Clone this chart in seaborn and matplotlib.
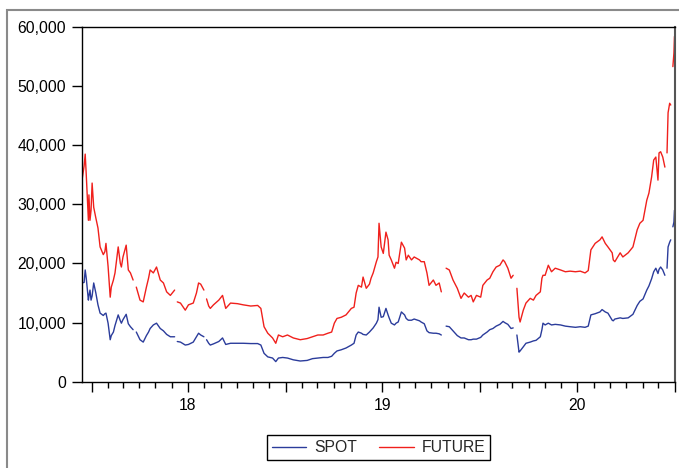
import matplotlib
matplotlib.use("Agg")
import matplotlib.pyplot as plt
import matplotlib.dates as mdates
from matplotlib.patches import Rectangle
from matplotlib.ticker import FuncFormatter, MultipleLocator
import seaborn as sns
import pandas as pd
import numpy as np

nan = np.nan

# observation dates (rows with nan are breaks in the series)
dates = [
    "2017-12-14", "2017-12-18", "2017-12-20", "2017-12-22", "2017-12-26", "2017-12-27",
    "2017-12-29", "2017-12-31", "2018-01-02", "2018-01-05", "2018-01-09", "2018-01-13",
    "2018-01-17", "2018-01-23", "2018-01-26", "2018-01-28", "2018-02-01", "2018-02-05",
    "2018-02-07", "2018-02-11", "2018-02-14", "2018-02-20", "2018-02-24", "2018-02-26",
    "2018-03-01", "2018-03-07", "2018-03-11", "2018-03-15", "2018-03-20", "2018-03-22",
    "2018-03-26", "2018-04-02", "2018-04-08", "2018-04-14", "2018-04-18", "2018-04-21",
    "2018-04-27", "2018-05-03", "2018-05-10", "2018-05-16", "2018-05-22", "2018-05-29",
    "2018-06-06", "2018-06-08", "2018-06-11", "2018-06-17", "2018-06-26", "2018-07-02",
    "2018-07-11", "2018-07-17", "2018-07-21", "2018-07-25", "2018-07-31", "2018-08-03",
    "2018-08-05", "2018-08-09", "2018-08-12", "2018-08-18", "2018-08-28", "2018-09-04",
    "2018-09-10", "2018-09-19", "2018-10-02", "2018-10-13", "2018-10-27", "2018-11-09",
    "2018-11-15", "2018-11-21", "2018-11-28", "2018-12-07", "2018-12-13", "2018-12-18",
    "2018-12-26", "2019-01-04", "2019-01-15", "2019-01-28", "2019-02-10", "2019-02-20",
    "2019-03-02", "2019-03-12", "2019-03-21", "2019-03-28", "2019-04-02", "2019-04-07",
    "2019-04-15", "2019-04-24", "2019-05-04", "2019-05-09", "2019-05-13", "2019-05-17",
    "2019-05-23", "2019-05-26", "2019-06-01", "2019-06-07", "2019-06-10", "2019-06-14",
    "2019-06-20", "2019-06-23", "2019-06-25", "2019-06-29", "2019-07-03", "2019-07-08",
    "2019-07-12", "2019-07-14", "2019-07-18", "2019-07-24", "2019-07-27", "2019-07-31",
    "2019-08-06", "2019-08-12", "2019-08-15", "2019-08-19", "2019-08-25", "2019-08-30",
    "2019-09-09", "2019-09-12", "2019-09-18", "2019-09-23", "2019-09-27", "2019-10-05",
    "2019-10-10", "2019-10-16", "2019-10-20", "2019-10-23", "2019-10-29", "2019-11-04",
    "2019-11-11", "2019-11-19", "2019-11-26", "2019-12-02", "2019-12-10", "2019-12-15",
    "2019-12-19", "2019-12-25", "2020-01-02", "2020-01-06", "2020-01-14", "2020-01-19",
    "2020-01-25", "2020-01-31", "2020-02-07", "2020-02-13", "2020-02-16", "2020-02-22",
    "2020-02-28", "2020-03-03", "2020-03-07", "2020-03-10", "2020-03-14", "2020-03-16",
    "2020-03-22", "2020-03-27", "2020-04-04", "2020-04-10", "2020-04-15", "2020-04-23",
    "2020-04-26", "2020-04-28", "2020-05-02", "2020-05-08", "2020-05-14", "2020-05-21",
    "2020-05-31", "2020-06-09", "2020-06-18", "2020-06-28", "2020-07-07", "2020-07-16",
    "2020-07-22", "2020-07-27", "2020-08-04", "2020-08-13", "2020-08-17", "2020-08-23",
    "2020-08-28", "2020-09-05", "2020-09-07", "2020-09-10", "2020-09-20", "2020-09-25",
    "2020-10-05", "2020-10-14", "2020-10-22", "2020-10-27", "2020-11-02", "2020-11-09",
    "2020-11-13", "2020-11-18", "2020-11-22", "2020-11-26", "2020-11-30", "2020-12-02",
    "2020-12-05", "2020-12-09", "2020-12-13", "2020-12-15", "2020-12-17", "2020-12-19",
    "2020-12-22", "2020-12-24", "2020-12-26", "2020-12-28", "2020-12-30", "2020-12-31",
]

spot = [
    16700, 16800, 18900, 17500, 13800, 14500,
    15500, 13800, 14500, 16700, 15000, 13000,
    11600, 11200, 11500, 11600, 9900, 7100,
    7800, 8400, 9500, 11300, 10300, 9900,
    10500, 11400, 9800, 9300, 8800, nan,
    8400, 7100, 6700, 7800, 8400, 9000,
    9600, 9900, 9000, 8600, 8000, 7600,
    7600, nan, 6800, 6700, 6200, 6300,
    6700, 7600, 8200, 7900, 7600, nan,
    7100, 6500, 6200, 6400, 6800, 7400,
    6300, 6500, 6500, 6500, 6450, 6450,
    6200, 4800, 4200, 4000, 3400, 4000,
    4100, 4000, 3700, 3500, 3600, 3900,
    4000, 4100, 4100, 4300, 4800, 5200,
    5400, 5700, 6200, 6500, 7900, 8400,
    8200, 8000, 7900, 8400, 8700, 9100,
    9900, 10500, 12600, 10900, 11000, 12400,
    11300, 10800, 9900, 9600, 9900, 10100,
    11800, 11300, 10700, 10400, 10400, 10600,
    10300, 10100, 9800, 8600, 8300, 8200,
    8200, 8100, 7900, nan, 9400, 9300,
    8600, 7800, 7400, 7400, 7100, 7100,
    7200, 7200, 7500, 7900, 8400, 8800,
    9000, 9400, 9700, 10200, 10000, 9700,
    9000, 9100, nan, 7900, 5000, 5200,
    5900, 6500, 6700, 6900, 7000, 7600,
    8800, 9900, 9600, 9900, 9600, 9700,
    9600, 9400, 9300, 9200, 9300, 9200,
    9400, 11300, 11500, 11800, 12200, 11800,
    11600, 10400, 10300, 10600, 10800, 10700,
    10800, 11400, 12900, 13600, 14000, 15500,
    16200, 17400, 18600, 19200, 18300, 19000,
    19400, 18900, 18000, nan, 19200, 22800,
    23600, 24000, nan, 26200, 27000, 29000,
]

future = [
    34100, 36500, 38500, 35000, 27300, 31600,
    27300, 29000, 33600, 29500, 27700, 26000,
    22800, 21500, 22000, 23400, 19500, 14300,
    16000, 17200, 18400, 22800, 20000, 19400,
    21100, 23100, 18900, 18400, 17200, nan,
    16000, 13800, 13500, 16000, 17500, 18900,
    18400, 19400, 17200, 16700, 15200, 14600,
    15500, nan, 13500, 13300, 12100, 13000,
    13300, 15000, 16700, 16500, 15500, nan,
    14000, 12800, 12400, 13000, 13800, 14600,
    12400, 13300, 13200, 13000, 12800, 12900,
    12400, 9300, 8200, 7400, 6500, 7900,
    7600, 7900, 7400, 7100, 7300, 7600,
    7900, 7900, 8200, 8400, 9900, 10700,
    10900, 11300, 12400, 12600, 15000, 16300,
    16000, 17700, 15800, 16500, 17500, 18400,
    20300, 21100, 26800, 22800, 21700, 25300,
    24000, 21400, 20600, 19200, 20200, 20000,
    23600, 22600, 20600, 21400, 20600, 21100,
    20600, 20300, 20300, 18400, 16300, 17200,
    16300, 16700, 15200, nan, 19200, 18900,
    17200, 15800, 14100, 15000, 14300, 14600,
    13500, 14600, 14300, 16300, 17200, 17500,
    18600, 19400, 19700, 20600, 20300, 19200,
    17500, 18000, nan, 15800, 10900, 10100,
    12100, 13300, 14100, 13800, 14600, 15200,
    17500, 18000, 18000, 19700, 18600, 19200,
    18900, 18600, 18700, 18600, 18700, 18400,
    18800, 22300, 23400, 24000, 24500, 23400,
    22800, 21800, 20600, 20300, 21800, 21100,
    21800, 22800, 25700, 26800, 27300, 30700,
    31900, 34600, 37500, 38000, 34100, 38700,
    38900, 38000, 36300, nan, 38700, 45500,
    47100, 46800, nan, 53300, 55600, 58400,
]

series_names = ["SPOT", "FUTURE"]
line_colors = ["#2b3c9b", "#f0201c"]

df = pd.DataFrame({"date": pd.to_datetime(dates), "SPOT": spot, "FUTURE": future})
df["seg"] = df["SPOT"].isna().cumsum()
long_df = df.melt(id_vars=["date", "seg"], value_vars=series_names,
                  var_name="series", value_name="value").dropna()

sns.set_theme(style="ticks")
plt.rcParams["font.family"] = ["Liberation Sans", "DejaVu Sans"]

W, H = 679, 468
fig = plt.figure(figsize=(W / 100, H / 100), dpi=100)
fig.patch.set_facecolor("white")
ax = fig.add_axes([82 / W, 1 - 381.7 / H, (675 - 82) / W, (381.7 - 27) / H])

sns.lineplot(data=long_df, x="date", y="value", hue="series", hue_order=series_names,
             units="seg", estimator=None, palette=dict(zip(series_names, line_colors)),
             linewidth=1.0, ax=ax)

ax.set_ylim(0, 60000)
ax.yaxis.set_major_locator(MultipleLocator(10000))
ax.yaxis.set_major_formatter(FuncFormatter(lambda v, p: f"{v:,.0f}"))

ax.set_xlim(pd.Timestamp(dates[0]), pd.Timestamp("2021-01-01"))
ax.xaxis.set_major_locator(mdates.MonthLocator(bymonth=[1, 7]))
ax.xaxis.set_minor_locator(mdates.MonthLocator())


def year_label(v, pos):
    d = mdates.num2date(v)
    return f"{d.year % 100}" if d.month == 7 else ""


ax.xaxis.set_major_formatter(FuncFormatter(year_label))
ax.tick_params(axis="x", which="major", length=7, width=1, color="black",
               direction="out", labelsize=11.3, pad=4.5, labelcolor="black")
ax.tick_params(axis="x", which="minor", length=4, width=1, color="black", direction="out")
ax.tick_params(axis="y", which="major", length=7, width=1, color="black",
               direction="out", labelsize=11.3, pad=4.5, labelcolor="black")
ax.set_xlabel("")
ax.set_ylabel("")
for side in ["left", "bottom", "top"]:
    ax.spines[side].set_color("black")
    ax.spines[side].set_linewidth(1.0)
ax.spines["right"].set_color("#555555")
ax.spines["right"].set_linewidth(1.5)

handles, labels = ax.get_legend_handles_labels()
ax.legend(handles, labels, loc="center", bbox_to_anchor=(378.5 / W, 1 - 447.5 / H),
          bbox_transform=fig.transFigure, ncol=2, frameon=True, fancybox=False,
          edgecolor="black", framealpha=1, fontsize=11.3, handlelength=2.2,
          handletextpad=0.5, columnspacing=1.4, borderpad=0.3)
ax.get_legend().get_frame().set_linewidth(1.0)

# outer window frame
fig.patches.append(Rectangle((7 / W, -0.1), 1.2, 1.1 - 10 / H, transform=fig.transFigure,
                             fill=False, edgecolor="#8a8a8a", linewidth=1.5, zorder=0))

fig.savefig("out.png", dpi=100)
